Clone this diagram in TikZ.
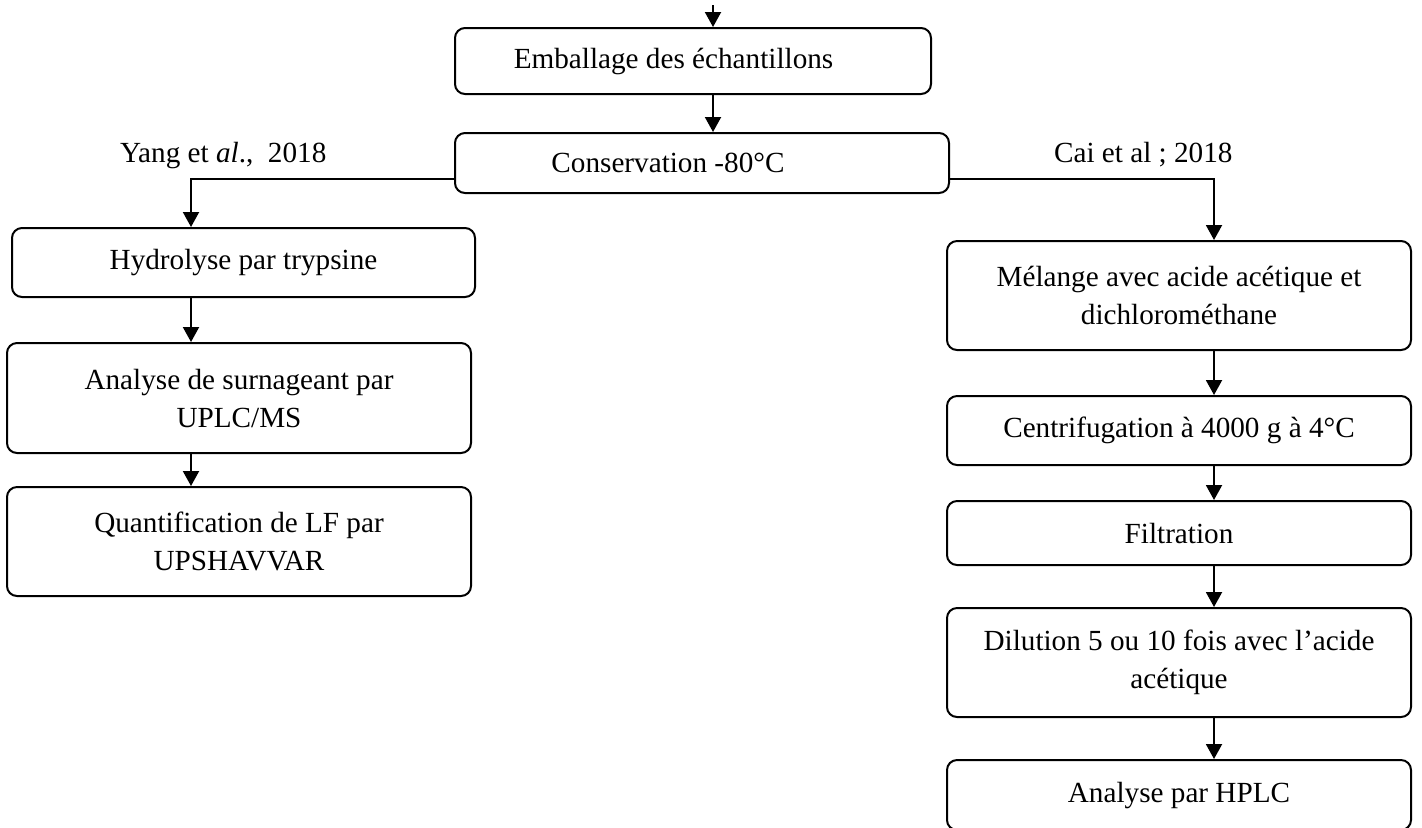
\documentclass[tikz,border=0pt]{standalone}
\usepackage{fontspec}
\setmainfont{Liberation Serif}
\usepackage{tikz}
\usetikzlibrary{arrows.meta}

\begin{document}
\begin{tikzpicture}[x=0.5pt, y=-0.5pt,
    font=\fontsize{14.6pt}{19pt}\selectfont,
    box/.style={draw, line width=1pt, rounded corners=5pt, align=center,
      inner sep=0pt, minimum width=232pt},
    arr/.style={line width=1pt, -{Triangle[width=8pt, length=7.5pt]}}]
    \useasboundingbox (0,0) rectangle (1422,827);

    \coordinate (top) at (713,5);
    \coordinate (L) at (191,179);
    \coordinate (R) at (1214,179);

    \node[box, minimum width=238pt, minimum height=33pt,
      label={[xshift=-9.75pt]center:Emballage des échantillons}] (emb) at (693,61) {};
    \node[box, minimum width=247pt, minimum height=30pt,
      label={[xshift=-17pt]center:Conservation -80°C}] (cons) at (702,163) {};

    \node[anchor=base west] (yang) at (113,162) {Yang et \textit{al}.,\ \ 2018};
    \node[anchor=base west] (cai) at (1047,162) {Cai et al ; 2018};

    \node[box, minimum width=231.5pt, minimum height=34.5pt] (hyd) at (243.5,262.5) {Hydrolyse par trypsine};
    \node[box, minimum height=55pt] (ana) at (239,398) {Analyse de surnageant par\\UPLC/MS};
    \node[box, minimum height=54.5pt] (quant) at (239,541.5) {Quantification de LF par\\UPSHAVVAR};

    \node[box, minimum height=54.5pt] (mel) at (1179,295.5) {Mélange avec acide acétique et\\dichlorométhane};
    \node[box, minimum height=34.5pt] (cen) at (1179,430.5) {Centrifugation à 4000 g à 4°C};
    \node[box, minimum height=32pt] (fil) at (1179,533) {Filtration};
    \node[box, minimum height=54.5pt] (dil) at (1179,662.5) {Dilution 5 ou 10 fois avec l’acide\\acétique};
    \node[box, minimum height=35pt] (hplc) at (1179,795) {Analyse par HPLC};

    \draw[arr] (top) -- (top |- emb.north);
    \draw[arr] (top |- emb.south) -- (top |- cons.north);
    \draw[arr] (L -| cons.west) -| (L |- hyd.north);
    \draw[arr] (R -| cons.east) -| (R |- mel.north);
    \draw[arr] (L |- hyd.south) -- (L |- ana.north);
    \draw[arr] (L |- ana.south) -- (L |- quant.north);
    \draw[arr] (R |- mel.south) -- (R |- cen.north);
    \draw[arr] (R |- cen.south) -- (R |- fil.north);
    \draw[arr] (R |- fil.south) -- (R |- dil.north);
    \draw[arr] (R |- dil.south) -- (R |- hplc.north);
  \end{tikzpicture}
\end{document}
